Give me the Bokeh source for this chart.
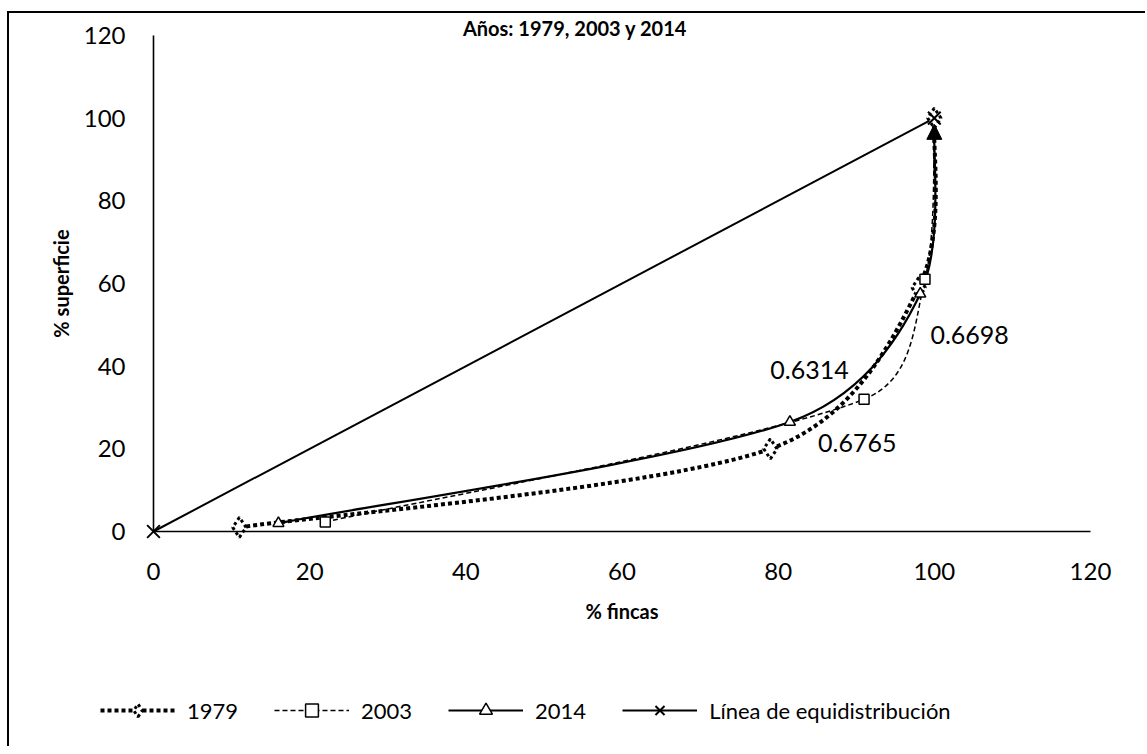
import math
from bokeh.plotting import figure
from bokeh.models import (Range1d, Label, Legend, LegendItem, Arrow, NormalHead,
                          ColumnDataSource, FixedTicker)
from bokeh.embed import file_html
from bokeh.resources import INLINE

# ---------------- data ----------------
title_text = "Años: 1979, 2003 y 2014"
x_label = "% fincas"
y_label = "% superficie"
x_ticks = [0, 20, 40, 60, 80, 100, 120]
y_ticks = [0, 20, 40, 60, 80, 100, 120]

x1979 = [11, 79, 98, 100]
y1979 = [1, 20, 59, 100]

x2003 = [22, 91, 98.8, 100]
y2003 = [2.3, 32, 61, 100]

x2014 = [16, 81.5, 98.2, 100]
y2014 = [2, 26.5, 57.5, 100]

x_eq = [0, 100]
y_eq = [0, 100]

series_names = ["1979", "2003", "2014", "Línea de equidistribución"]
gini_labels = ["0.6314", "0.6698", "0.6765"]

FONT = "Lato"

# ---------------- layout ----------------
# the canvas sits at picture (9, 13) because of the CSS margin + border
W, H = 1138, 735
OX, OY = 9, 13
PX0, PX120 = 153, 1090      # picture x of data 0 and 120
PY0, PY120 = 531, 35        # picture y of data 0 and 120
SX = (PX120 - PX0) / 120.0
SY = (PY0 - PY120) / 120.0
XA = (OX - PX0) / SX
XB = (OX + W - PX0) / SX
YB = (PY0 - OY) / SY
YA = (PY0 - (OY + H)) / SY

p = figure(width=W, height=H, output_backend="svg", toolbar_location=None,
           x_range=Range1d(XA, XB), y_range=Range1d(YA, YB),
           min_border_left=0, min_border_right=0,
           min_border_top=0, min_border_bottom=0,
           styles={"margin-left": "7px", "margin-top": "11px",
                   "border-left": "2px solid black", "border-top": "2px solid black",
                   "border-right": "0px none white", "border-bottom": "0px none white"})
p.outline_line_color = None
p.grid.visible = False
p.background_fill_color = "white"
p.border_fill_color = "white"


def smooth_segments(xs, ys):
    """Bezier segments (Excel-like smoothed line) through the given points."""
    n = len(xs)
    pts = [(x * SX, y * SY) for x, y in zip(xs, ys)]
    out = dict(x0=[], y0=[], x1=[], y1=[], cx0=[], cy0=[], cx1=[], cy1=[])
    for i in range(n - 1):
        p0 = pts[i - 1] if i > 0 else pts[i]
        p1 = pts[i]
        p2 = pts[i + 1]
        p3 = pts[i + 2] if i + 2 < n else pts[i + 1]
        chord = math.hypot(p2[0] - p1[0], p2[1] - p1[1])
        t1 = ((p2[0] - p0[0]) / 6.0, (p2[1] - p0[1]) / 6.0)
        t2 = ((p3[0] - p1[0]) / 6.0, (p3[1] - p1[1]) / 6.0)
        lim = chord * 0.4

        def clamp(t):
            L = math.hypot(*t)
            if L > lim and L > 0:
                return (t[0] * lim / L, t[1] * lim / L)
            return t
        t1 = clamp(t1)
        t2 = clamp(t2)
        c1 = (p1[0] + t1[0], p1[1] + t1[1])
        c2 = (p2[0] - t2[0], p2[1] - t2[1])
        out["x0"].append(p1[0] / SX); out["y0"].append(p1[1] / SY)
        out["x1"].append(p2[0] / SX); out["y1"].append(p2[1] / SY)
        out["cx0"].append(c1[0] / SX); out["cy0"].append(c1[1] / SY)
        out["cx1"].append(c2[0] / SX); out["cy1"].append(c2[1] / SY)
    return ColumnDataSource(out)


BZ = dict(x0="x0", y0="y0", x1="x1", y1="y1", cx0="cx0", cy0="cy0", cx1="cx1", cy1="cy1")

# equidistribution line
r4 = p.line(x_eq, y_eq, line_color="black", line_width=2)

# smoothed curves
r3 = p.bezier(source=smooth_segments(x2014, y2014), line_color="black", line_width=2.2, **BZ)
r2 = p.bezier(source=smooth_segments(x2003, y2003), line_color="black", line_width=1.5,
              line_dash="5 3", **BZ)
r1 = p.bezier(source=smooth_segments(x1979, y1979), line_color="black", line_width=4,
              line_dash="4 3", **BZ)

# markers
m1 = p.scatter(x1979, y1979, marker="diamond", size=20, fill_color="white",
               line_color="black", line_width=3, line_dash="3 3")
m2 = p.scatter(x2003[:-1], y2003[:-1], marker="square", size=10, fill_color="white",
               line_color="black", line_width=1.5)
m3 = p.scatter(x2014[:-1], y2014[:-1], marker="triangle", size=11, fill_color="white",
               line_color="black", line_width=1.5)
m4 = p.scatter(x_eq, y_eq, marker="x", size=18, line_color="black", line_width=2)

# arrow head at end of 2014 series
p.add_layout(Arrow(x_start=x2014[-1], y_start=y2014[-1] - 6,
                   x_end=x2014[-1], y_end=y2014[-1] - 1.5,
                   line_color="black", line_width=2,
                   end=NormalHead(size=15, fill_color="black", line_color="black")))

# gini labels
for txt, (lx, ly) in zip(gini_labels, [(79, 39), (99.5, 47.5), (85.1, 21.5)]):
    p.add_layout(Label(x=lx, y=ly, text=txt, text_font=FONT, text_font_size="25px",
                       text_baseline="middle", text_align="left", text_color="black"))

# title (cut by the crop in the reference; kept visible just under the frame edge)
p.add_layout(Label(x=54, y=(PY0 - 15) / SY, text=title_text, text_font=FONT,
                   text_font_size="20px", text_font_style="bold",
                   text_align="center", text_baseline="top", text_color="black"))

# axes (fixed at the data origin)
for ax in (p.xaxis[0], p.yaxis[0]):
    ax.fixed_location = 0
    ax.bounds = (0, 120)
    ax.axis_line_color = "black"
    ax.axis_line_width = 1.6
    ax.major_tick_out = 0
    ax.major_tick_in = 0
    ax.minor_tick_out = 0
    ax.minor_tick_in = 0
    ax.major_label_text_font = FONT
    ax.major_label_text_font_size = "24px"
    ax.major_label_text_color = "black"
    ax.axis_label_text_font = FONT
    ax.axis_label_text_font_size = "20px"
    ax.axis_label_text_font_style = "bold"
    ax.axis_label_text_color = "black"

p.xaxis[0].ticker = FixedTicker(ticks=x_ticks)
p.yaxis[0].ticker = FixedTicker(ticks=y_ticks)
p.xaxis[0].axis_label = x_label
p.yaxis[0].axis_label = y_label
p.xaxis[0].major_label_standoff = 31
p.yaxis[0].major_label_standoff = 28
p.xaxis[0].axis_label_standoff = 16
p.yaxis[0].axis_label_standoff = 8

# legend
legend = Legend(items=[LegendItem(label=series_names[0], renderers=[r1, m1]),
                       LegendItem(label=series_names[1], renderers=[r2, m2]),
                       LegendItem(label=series_names[2], renderers=[r3, m3]),
                       LegendItem(label=series_names[3], renderers=[r4, m4])],
                orientation="horizontal", location=(91, 22),
                label_text_font=FONT, label_text_font_size="22px",
                label_text_color="black",
                glyph_width=75, glyph_height=32, label_standoff=12, spacing=36,
                padding=0, margin=0, border_line_color=None,
                background_fill_alpha=0)
p.add_layout(legend)

open("out.html", "w").write(file_html(p, INLINE))
